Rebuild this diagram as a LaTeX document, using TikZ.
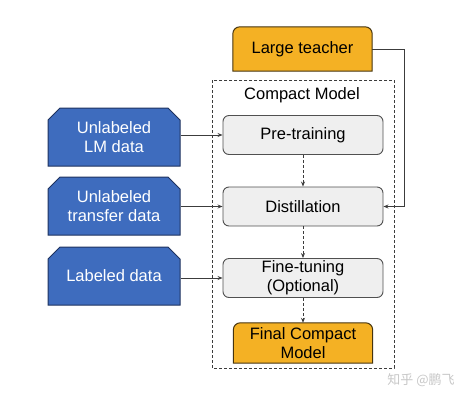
\documentclass[tikz,border=0pt]{standalone}
\usepackage{fontspec}
\setmainfont{Liberation Sans}
\newfontfamily\cjk{Noto Sans CJK SC}
\usetikzlibrary{arrows.meta,shapes.misc,backgrounds}

\definecolor{teachyellow}{RGB}{244,177,36}
\definecolor{teachedge}{RGB}{70,52,14}
\definecolor{datablue}{RGB}{62,108,190}
\definecolor{dataedge}{RGB}{30,50,95}
\definecolor{stagegray}{RGB}{239,239,239}
\definecolor{stageedge}{RGB}{80,80,80}
\definecolor{wire}{RGB}{60,60,60}

\tikzset{
  datanode/.style={chamfered rectangle, chamfered rectangle corners={north west,north east},
    chamfered rectangle xsep=6pt, chamfered rectangle ysep=6pt,
    draw=dataedge, line width=1pt, fill=datablue, text=white,
    minimum width=132pt, minimum height=58pt, inner sep=0pt, align=center},
  stagenode/.style={rectangle, rounded corners=6pt, draw=stageedge, line width=0.9pt,
    fill=stagegray, minimum width=160pt, minimum height=39pt, inner sep=0pt, align=center},
  tabnode/.style={rectangle, inner sep=0pt, align=center},
  tabfill/.style={draw=teachedge, line width=1pt, fill=teachyellow},
  feed/.style={draw=wire, line width=0.8pt, -{Stealth[length=5pt,width=4pt]}},
  flow/.style={feed, dash pattern=on 3pt off 2pt}
}

\begin{document}
\begin{tikzpicture}[x=1pt,y=-1pt,font=\fontsize{16.5}{19}\selectfont]
  \useasboundingbox (0,0) rectangle (471,400);

  % compact model frame
  \draw[wire, line width=0.8pt, dash pattern=on 3pt off 2pt] (212,80) rectangle (394,368);
  \node (cmlabel) at (302,95) {Compact Model};

  % yellow tabs
  \node[tabnode, minimum width=139pt, minimum height=44pt] (teacher) at (302.5,49) {Large teacher};
  \node[tabnode, minimum width=139pt, minimum height=40pt] (final) at (303,343) {Final Compact\\Model};
  \begin{scope}[on background layer]
    \foreach \t in {teacher,final}
      \draw[tabfill] (\t.south west) -- ([yshift=-7pt]\t.north west) arc (180:90:7pt)
        -- ([xshift=-7pt]\t.north east) arc (90:0:7pt) -- (\t.south east) -- cycle;
  \end{scope}

  % stages
  \node[stagenode] (pretrain) at (303,135) {Pre-training};
  \node[stagenode] (distill) at (303,206.5) {Distillation};
  \node[stagenode] (finetune) at (303,278) {Fine-tuning\\(Optional)};

  % data
  \node[datanode] (lmdata) at (114,137) {Unlabeled\\LM data};
  \node[datanode] (transfer) at (114,206) {Unlabeled\\transfer data};
  \node[datanode] (labeled) at (114,276) {Labeled data};

  \draw[feed] (lmdata.east |- pretrain.west) -- (pretrain.west);
  \draw[feed] (transfer.east |- distill.west) -- (distill.west);
  \draw[feed] (labeled.east |- finetune.west) -- (finetune.west);

  \draw[flow] (pretrain) -- (distill);
  \draw[flow] (distill) -- (finetune);
  \draw[flow] (finetune) -- (final);

  \coordinate (bend) at (404,49);
  \draw[feed] (teacher.east) -- (bend) |- (distill.east);

  \node[text=black!22, font=\cjk\fontsize{13}{15}\selectfont] (mark) at (421,380) {知乎 @鹏飞};
\end{tikzpicture}
\end{document}
